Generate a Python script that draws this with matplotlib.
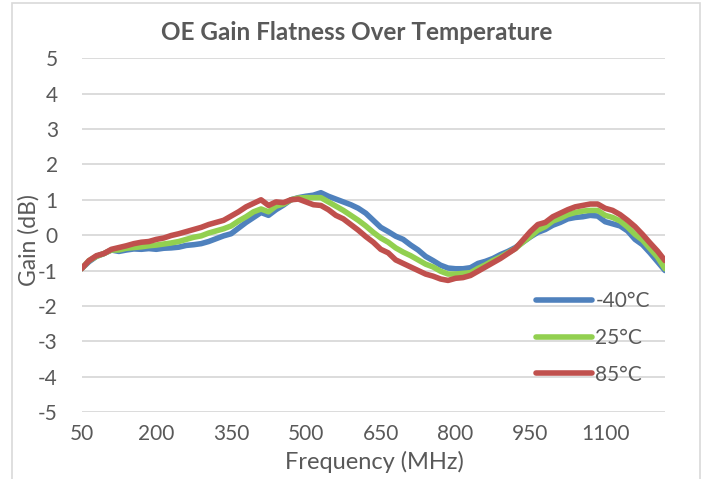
import numpy as np
import matplotlib
matplotlib.use("Agg")
import matplotlib.pyplot as plt
from matplotlib.patches import Rectangle

freq = np.arange(50, 1221, 15)

gain_m40 = [-0.95, -0.75, -0.60, -0.52, -0.42, -0.46, -0.42, -0.39, -0.40, -0.38,
            -0.40, -0.37, -0.36, -0.34, -0.29, -0.27, -0.24, -0.18, -0.10, -0.02,
            0.04, 0.20, 0.36, 0.50, 0.64, 0.56, 0.72, 0.85, 1.00, 1.06,
            1.10, 1.13, 1.20, 1.10, 1.02, 0.94, 0.86, 0.76, 0.62, 0.42,
            0.22, 0.10, -0.03, -0.12, -0.28, -0.42, -0.60, -0.72, -0.85, -0.93,
            -0.95, -0.95, -0.92, -0.80, -0.74, -0.66, -0.55, -0.46, -0.35, -0.20,
            -0.05, 0.08, 0.16, 0.28, 0.36, 0.46, 0.50, 0.52, 0.56, 0.54,
            0.38, 0.32, 0.26, 0.12, -0.12, -0.27, -0.50, -0.75, -1.00]

gain_25 = [-0.95, -0.72, -0.60, -0.52, -0.42, -0.42, -0.37, -0.35, -0.33, -0.30,
           -0.28, -0.25, -0.22, -0.18, -0.12, -0.06, -0.02, 0.06, 0.12, 0.18,
           0.26, 0.40, 0.52, 0.66, 0.74, 0.66, 0.82, 0.88, 1.00, 1.05,
           1.06, 1.06, 1.06, 0.94, 0.82, 0.70, 0.56, 0.42, 0.26, 0.08,
           -0.08, -0.20, -0.36, -0.48, -0.58, -0.70, -0.82, -0.90, -1.02, -1.10,
           -1.10, -1.08, -1.06, -0.94, -0.84, -0.72, -0.62, -0.50, -0.38, -0.20,
           -0.04, 0.14, 0.24, 0.40, 0.48, 0.58, 0.64, 0.68, 0.70, 0.70,
           0.56, 0.50, 0.40, 0.23, 0.02, -0.14, -0.38, -0.62, -0.95]

gain_85 = [-0.95, -0.72, -0.58, -0.52, -0.40, -0.35, -0.30, -0.24, -0.20, -0.18,
           -0.12, -0.08, -0.01, 0.04, 0.10, 0.16, 0.22, 0.30, 0.36, 0.42,
           0.54, 0.66, 0.80, 0.90, 1.00, 0.84, 0.94, 0.92, 1.00, 1.02,
           0.94, 0.86, 0.84, 0.72, 0.56, 0.46, 0.30, 0.14, -0.04, -0.20,
           -0.40, -0.50, -0.70, -0.80, -0.90, -1.00, -1.10, -1.16, -1.24, -1.28,
           -1.22, -1.20, -1.14, -1.02, -0.90, -0.78, -0.66, -0.52, -0.38, -0.14,
           0.10, 0.30, 0.36, 0.52, 0.62, 0.72, 0.80, 0.84, 0.88, 0.88,
           0.76, 0.70, 0.58, 0.42, 0.24, 0.02, -0.22, -0.45, -0.72]

series_names = ["-40°C", "25°C", "85°C"]
series_values = [gain_m40, gain_25, gain_85]
series_colors = ["#4F81BD", "#92D050", "#C0504D"]

x_ticks = [50, 200, 350, 500, 650, 800, 950, 1100]
y_ticks = [5, 4, 3, 2, 1, 0, -1, -2, -3, -4, -5]

plt.rcParams['font.family'] = ['Lato', 'DejaVu Sans']
text_color = "#595959"
grid_color = "#D9D9D9"

fig = plt.figure(figsize=(7.09, 4.79), dpi=100)
ax = fig.add_axes([81.5 / 709, 1 - 412 / 479, (665 - 81.5) / 709, (412 - 58.3) / 479])

for name, vals, col in zip(series_names, series_values, series_colors):
    ax.plot(freq, vals, color=col, lw=4.0, label=name, solid_capstyle='round',
            solid_joinstyle='round')

ax.set_xlim(50, 1220)
ax.set_ylim(-5, 5)
ax.set_xticks(x_ticks)
ax.set_xticklabels([str(v) for v in x_ticks])
ax.set_yticks(y_ticks)
ax.set_yticklabels([str(v) for v in y_ticks])
ax.grid(axis='y', color=grid_color, lw=1.3)
ax.set_axisbelow(True)
for s in ax.spines.values():
    s.set_visible(False)
ax.tick_params(axis='both', length=0, labelsize=15, colors=text_color)
ax.tick_params(axis='x', pad=9)
ax.tick_params(axis='y', pad=17)

ax.set_xlabel("Frequency (MHz)", fontsize=17, color=text_color)
ax.xaxis.set_label_coords((374.5 - 81.5) / (665 - 81.5), -(462 - 412) / (412 - 58.3))
ax.xaxis.label.set_va('center')
ax.set_ylabel("Gain (dB)", fontsize=16.5, color=text_color)
ax.yaxis.set_label_coords(-(81.5 - 29) / (665 - 81.5), (412 - 240) / (412 - 58.3))
ax.yaxis.label.set_va('center')

fig.text(357 / 709, 1 - 33 / 479, "OE Gain Flatness Over Temperature", fontsize=17.5,
         fontweight='bold', color=text_color, ha='center', va='center')

leg = ax.legend(loc='center left', bbox_to_anchor=(536 / 709, 1 - 338 / 479),
                bbox_transform=fig.transFigure, frameon=False, fontsize=15,
                handlelength=2.7, handletextpad=0.15, labelspacing=0.8,
                labelcolor=text_color, borderaxespad=0, borderpad=0)

fig.patches.append(Rectangle((12 / 709, -0.05), (700 - 12) / 709, 1.05 - 3.5 / 479,
                             transform=fig.transFigure, fill=False,
                             edgecolor=grid_color, lw=1.2))

fig.savefig("out.png", dpi=100)
